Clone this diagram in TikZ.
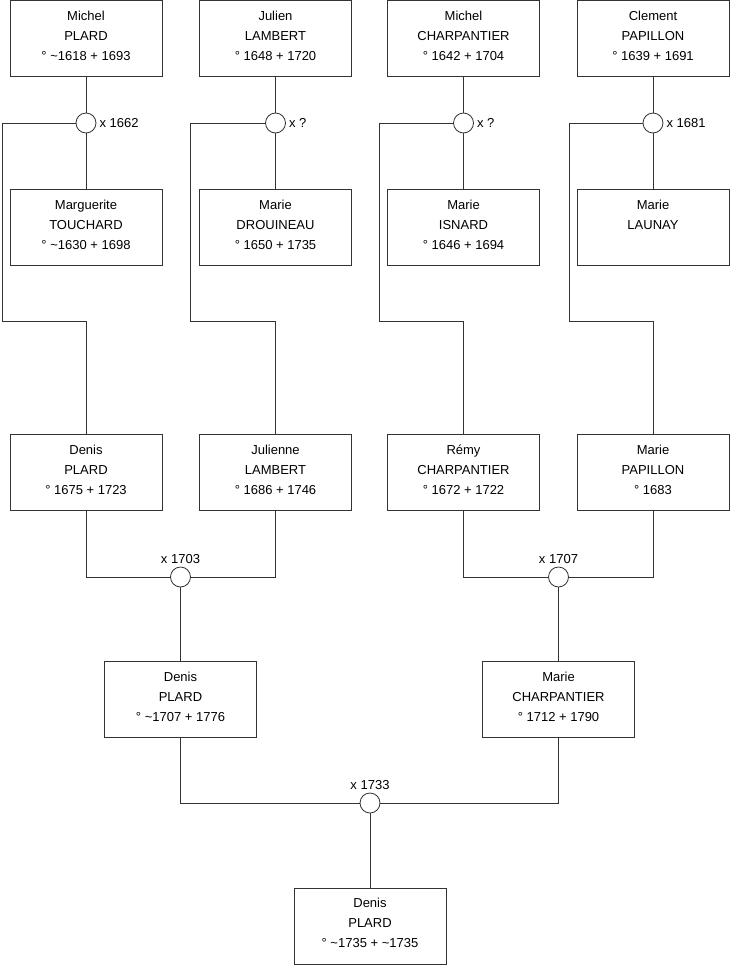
\documentclass[tikz,border=0pt]{standalone}
\usepackage{fontspec}
\setmainfont{Liberation Sans}

\begin{document}
\begin{tikzpicture}[
    x=1pt, y=-1pt,
    person/.style={rectangle, draw=black!80, line width=0.8pt, fill=white, minimum width=152pt, minimum height=76pt, inner sep=0pt, label={[who]north:\strut#1}},
    who/.style={anchor=north, inner sep=6pt, align=center, font=\fontsize{13}{20}\selectfont},
    wedding/.style={circle, draw=black!80, line width=0.8pt, fill=white, minimum size=20pt, inner sep=0pt},
    wdate/.style={inner sep=3pt, font=\fontsize{13}{16}\selectfont},
    link/.style={draw=black!80, line width=0.8pt}
]
\useasboundingbox (0,0) rectangle (740,975);

% grandparents
\node[person={Michel\\PLARD\\° \textasciitilde1618 + 1693}] (mplard) at (86,38.5) {};
\node[person={Julien\\LAMBERT\\° 1648 + 1720}] (jlambert) at (275.5,38.5) {};
\node[person={Michel\\CHARPANTIER\\° 1642 + 1704}] (mcharpantier) at (463.5,38.5) {};
\node[person={Clement\\PAPILLON\\° 1639 + 1691}] (cpapillon) at (653,38.5) {};

\node[wedding, label={[wdate]right:x 1662}] (wplard) at (86,123) {};
\node[wedding, label={[wdate]right:x ?}] (wlambert) at (275.5,123) {};
\node[wedding, label={[wdate]right:x ?}] (wcharpantier) at (463.5,123) {};
\node[wedding, label={[wdate]right:x 1681}] (wpapillon) at (653,123) {};

\node[person={Marguerite\\TOUCHARD\\° \textasciitilde1630 + 1698}] (mtouchard) at (86,227.5) {};
\node[person={Marie\\DROUINEAU\\° 1650 + 1735}] (mdrouineau) at (275.5,227.5) {};
\node[person={Marie\\ISNARD\\° 1646 + 1694}] (misnard) at (463.5,227.5) {};
\node[person={Marie\\LAUNAY}] (mlaunay) at (653,227.5) {};

\coordinate (kplard) at (2,321);
\coordinate (klambert) at (190,321);
\coordinate (kcharpantier) at (379,321);
\coordinate (kpapillon) at (569,321);

% parents
\node[person={Denis\\PLARD\\° 1675 + 1723}] (dplard) at (86,472.5) {};
\node[person={Julienne\\LAMBERT\\° 1686 + 1746}] (julienne) at (275.5,472.5) {};
\node[person={Rémy\\CHARPANTIER\\° 1672 + 1722}] (rcharpantier) at (463.5,472.5) {};
\node[person={Marie\\PAPILLON\\° 1683}] (mpapillon) at (653,472.5) {};

\node[wedding, label={[wdate]above:x 1703}] (w1703) at (180.5,577) {};
\node[wedding, label={[wdate]above:x 1707}] (w1707) at (558.5,577) {};

\node[person={Denis\\PLARD\\° \textasciitilde1707 + 1776}] (dplardjr) at (180.5,699.5) {};
\node[person={Marie\\CHARPANTIER\\° 1712 + 1790}] (mcharpjr) at (558.5,699.5) {};

\node[wedding, label={[wdate]above:x 1733}] (w1733) at (370,803) {};

\node[person={Denis\\PLARD\\° \textasciitilde1735 + \textasciitilde1735}] (dplardiii) at (370,926) {};

% links
\draw[link] (mplard) -- (wplard) -- (mtouchard);
\draw[link] (jlambert) -- (wlambert) -- (mdrouineau);
\draw[link] (mcharpantier) -- (wcharpantier) -- (misnard);
\draw[link] (cpapillon) -- (wpapillon) -- (mlaunay);

\draw[link] (wplard) -| (kplard) -| (dplard);
\draw[link] (wlambert) -| (klambert) -| (julienne);
\draw[link] (wcharpantier) -| (kcharpantier) -| (rcharpantier);
\draw[link] (wpapillon) -| (kpapillon) -| (mpapillon);

\draw[link] (dplard) |- (w1703) -| (julienne);
\draw[link] (rcharpantier) |- (w1707) -| (mpapillon);
\draw[link] (w1703) -- (dplardjr);
\draw[link] (w1707) -- (mcharpjr);

\draw[link] (dplardjr) |- (w1733) -| (mcharpjr);
\draw[link] (w1733) -- (dplardiii);
\end{tikzpicture}
\end{document}
